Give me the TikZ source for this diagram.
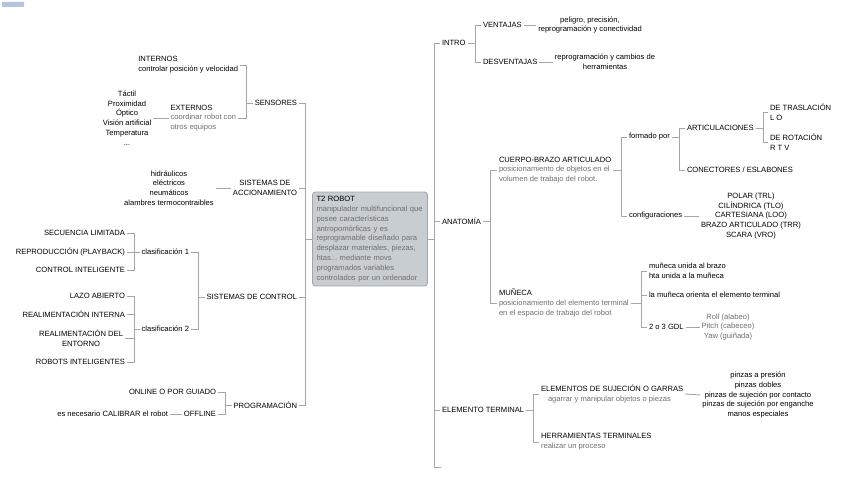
\documentclass[tikz,border=0pt]{standalone}
\usepackage{fontspec}
\setmainfont{Liberation Sans}
\usetikzlibrary{calc}
\frenchspacing
\definecolor{linegray}{HTML}{A6A6A6}
\definecolor{subgray}{HTML}{6F6F6F}
\definecolor{hubfill}{HTML}{C8CDD1}
\definecolor{hubline}{HTML}{A0A5AA}
\definecolor{badgeblue}{HTML}{B4C3DE}
\newcommand{\mapfont}{\fontsize{7.6}{9.8}\selectfont}
\newcommand{\subtxt}[1]{{\color{subgray}#1}}
\tikzset{
    topic/.style={inner sep=0pt,outer sep=2pt,font=\mapfont,text=black},
    lefttopic/.style={topic,anchor=east,align=right},
    righttopic/.style={topic,anchor=west,align=left},
    leaflist/.style={topic,align=center},
    link/.style={draw=linegray,line width=0.9pt},
    hub/.style={draw=hubline,fill=hubfill,rounded corners=3pt,line width=0.8pt,
        font=\mapfont,align=left,text width=107pt,minimum width=115pt,
        minimum height=94pt,inner xsep=4pt,inner ysep=3pt,outer sep=0pt}
}
\begin{document}
\begin{tikzpicture}[x=1pt,y=-1pt]
\useasboundingbox (0,0) rectangle (848,484);
\fill[badgeblue,rounded corners=0.5pt] (2,2) rectangle (24,7);

% centro
\node[hub] (robot) at (370,239) {T2 ROBOT\\\subtxt{manipulador multifuncional que}\\\subtxt{posee características}\\\subtxt{antropomórficas y es}\\\subtxt{reprogramable diseñado para}\\\subtxt{desplazar materiales, piezas,}\\\subtxt{htas... mediante movs}\\\subtxt{programados variables}\\\subtxt{controlados por un ordenador}};

\coordinate (trunkL) at (305,0);
\coordinate (trunkR) at (434,0);
\coordinate (tailR) at (441,467);

% lado izquierdo
\node[lefttopic] (sensores) at (299,103) {SENSORES};
\node[lefttopic,align=left] (internos) at (240,65) {INTERNOS\\controlar posición y velocidad};
\node[lefttopic,align=left] (externos) at (238,118) {EXTERNOS\\\subtxt{coordinar robot con}\\\subtxt{otros equipos}};
\node[leaflist] (tipos) at (127,118) {Táctil\\Proximidad\\Óptico\\Visión artificial\\Temperatura\\...};

\node[lefttopic,align=center] (accion) at (299,188) {SISTEMAS DE\\ACCIONAMIENTO};
\node[leaflist] (actuadores) at (169,188) {hidráulicos\\eléctricos\\neumáticos\\alambres termocontraibles};

\node[lefttopic] (control) at (299,297) {SISTEMAS DE CONTROL};
\node[lefttopic] (clasA) at (191,252) {clasificación 1};
\node[lefttopic] (clasB) at (191,329) {clasificación 2};
\node[lefttopic] (secuencia) at (127,233) {SECUENCIA LIMITADA};
\node[lefttopic] (playback) at (127,252) {REPRODUCCIÓN (PLAYBACK)};
\node[lefttopic] (inteligente) at (127,270) {CONTROL INTELIGENTE};
\node[lefttopic] (lazo) at (127,296) {LAZO ABIERTO};
\node[lefttopic] (interna) at (127,314) {REALIMENTACIÓN INTERNA};
\node[lefttopic,align=center] (entorno) at (125,338) {REALIMENTACIÓN DEL\\ENTORNO};
\node[lefttopic] (robotsint) at (127,362) {ROBOTS INTELIGENTES};

\node[lefttopic] (programacion) at (299,405) {PROGRAMACIÓN};
\node[lefttopic] (online) at (218,392) {ONLINE O POR GUIADO};
\node[lefttopic] (offline) at (218,414) {OFFLINE};
\node[lefttopic] (calibrar) at (170,414) {es necesario CALIBRAR el robot};

% lado derecho
\node[righttopic] (intro) at (440,43) {INTRO};
\node[righttopic] (ventajas) at (481,25) {VENTAJAS};
\node[righttopic] (desventajas) at (481,62) {DESVENTAJAS};
\node[leaflist] (pros) at (590,25) {peligro, precisión,\\reprogramación y conectividad};
\node[leaflist] (contras) at (605,62) {reprogramación y cambios de\\herramientas};

\node[righttopic] (anatomia) at (440,221) {ANATOMÍA};
\node[righttopic] (cuerpo) at (497,170) {CUERPO-BRAZO ARTICULADO\\\subtxt{posicionamiento de objetos en el}\\\subtxt{volumen de trabajo del robot.}};
\node[righttopic] (formado) at (627,137) {formado por};
\node[righttopic] (configuraciones) at (627,216) {configuraciones};
\node[righttopic] (articulaciones) at (685,128) {ARTICULACIONES};
\node[righttopic] (conectores) at (685,170) {CONECTORES / ESLABONES};
\node[righttopic] (traslacion) at (768,112) {DE TRASLACIÓN\\L O};
\node[righttopic] (rotacion) at (768,142) {DE ROTACIÓN\\R T V};
\node[leaflist] (tipologias) at (751,216) {POLAR (TRL)\\CILÍNDRICA (TLO)\\CARTESIANA (LOO)\\BRAZO ARTICULADO (TRR)\\SCARA (VRO)};

\node[righttopic] (muneca) at (497,303) {MUÑECA\\\subtxt{posicionamiento del elemento terminal}\\\subtxt{en el espacio de trabajo del robot}};
\node[righttopic] (union) at (647,271) {muñeca unida al brazo\\hta unida a la muñeca};
\node[righttopic] (orienta) at (647,295) {la muñeca orienta el elemento terminal};
\node[righttopic] (gdl) at (647,327) {2 o 3 GDL};
\node[leaflist,text=subgray] (ejes) at (728,327) {Roll (alabeo)\\Pitch (cabeceo)\\Yaw (guiñada)};

\node[righttopic] (terminal) at (440,410) {ELEMENTO TERMINAL};
\node[righttopic] (garras) at (539,394) {ELEMENTOS DE SUJECIÓN O GARRAS\\\hspace*{7pt}\subtxt{agarrar y manipular objetos o piezas}};
\node[leaflist] (pinzas) at (758,395) {pinzas a presión\\pinzas dobles\\pinzas de sujeción por contacto\\pinzas de sujeción por enganche\\manos especiales};
\node[righttopic] (herramientas) at (539,442) {HERRAMIENTAS TERMINALES\\\subtxt{realizar un proceso}};

% troncos
\draw[link] (sensores.east) -| (trunkL |- programacion.east) -- (programacion.east);
\draw[link] (accion.east) -- (accion.east -| trunkL);
\draw[link] (control.east) -- (control.east -| trunkL);
\draw[link] (robot.west) -- (robot.west -| trunkL);

\draw[link] (intro.west) -| (trunkR |- tailR) -- (tailR);
\draw[link] (anatomia.west) -- (anatomia.west -| trunkR);
\draw[link] (terminal.west) -- (terminal.west -| trunkR);
\draw[link] (robot.east) -- (robot.east -| trunkR);

% sensores y accionamiento
\coordinate (bSens) at (246,0);
\draw[link] (sensores.west) -- (sensores.west -| bSens);
\draw[link] (internos.east) -| (bSens |- externos.east) -- (externos.east);
\draw[link] (tipos.east) -- (externos.west);
\draw[link] (actuadores.east) -- (accion.west);

% control
\coordinate (bCtrl) at (198,0);
\coordinate (bClas) at (134,0);
\draw[link] (control.west) -- (control.west -| bCtrl);
\draw[link] (clasA.east) -| (bCtrl |- clasB.east) -- (clasB.east);
\draw[link] (clasA.west) -- (clasA.west -| bClas);
\draw[link] (secuencia.east) -| (bClas |- inteligente.east) -- (inteligente.east);
\draw[link] (playback.east) -- (playback.east -| bClas);
\draw[link] (clasB.west) -- (clasB.west -| bClas);
\draw[link] (lazo.east) -| (bClas |- robotsint.east) -- (robotsint.east);
\draw[link] (interna.east) -- (interna.east -| bClas);
\draw[link] (entorno.east) -- (entorno.east -| bClas);

% programacion
\coordinate (bProg) at (225,0);
\draw[link] (programacion.west) -- (programacion.west -| bProg);
\draw[link] (online.east) -| (bProg |- offline.east) -- (offline.east);
\draw[link] (calibrar.east) -- (offline.west);

% intro
\coordinate (bIntro) at (475,0);
\draw[link] (intro.east) -- (intro.east -| bIntro);
\draw[link] (ventajas.west) -| (bIntro |- desventajas.west) -- (desventajas.west);
\draw[link] (ventajas.east) -- (pros.west);
\draw[link] (desventajas.east) -- (contras.west);

% anatomia
\coordinate (bAnat) at (490,0);
\coordinate (bCuerpo) at (621,0);
\coordinate (bForm) at (679,0);
\coordinate (bArt) at (763,0);
\coordinate (bMun) at (641,0);
\draw[link] (anatomia.east) -- (anatomia.east -| bAnat);
\draw[link] (cuerpo.west) -| (bAnat |- muneca.west) -- (muneca.west);
\draw[link] (cuerpo.east) -- (cuerpo.east -| bCuerpo);
\draw[link] (formado.west) -| (bCuerpo |- configuraciones.west) -- (configuraciones.west);
\draw[link] (formado.east) -- (formado.east -| bForm);
\draw[link] (articulaciones.west) -| (bForm |- conectores.west) -- (conectores.west);
\draw[link] (articulaciones.east) -- (articulaciones.east -| bArt);
\draw[link] (traslacion.west) -| (bArt |- rotacion.west) -- (rotacion.west);
\draw[link] (configuraciones.east) -- (tipologias.west);

\draw[link] (muneca.east) -- (muneca.east -| bMun);
\draw[link] (union.west) -| (bMun |- gdl.west) -- (gdl.west);
\draw[link] (orienta.west) -- (orienta.west -| bMun);
\draw[link] (gdl.east) -- (ejes.west);

% elemento terminal
\coordinate (bTerm) at (533,0);
\draw[link] (terminal.east) -- (terminal.east -| bTerm);
\draw[link] (garras.west) -| (bTerm |- herramientas.west) -- (herramientas.west);
\draw[link] (garras.east) -- (pinzas.west);
\end{tikzpicture}
\end{document}
